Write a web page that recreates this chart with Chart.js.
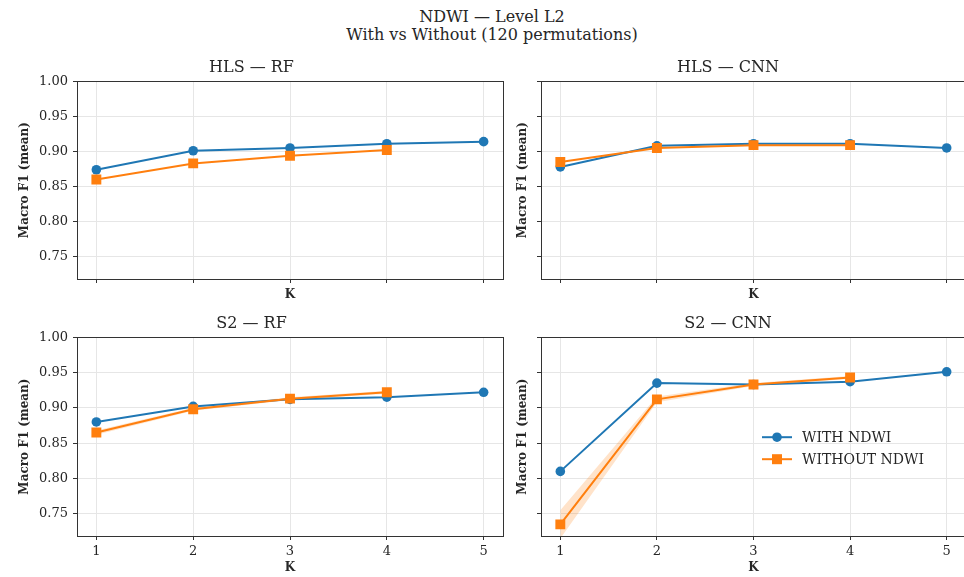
<!DOCTYPE html>
<html>
<head>
<meta charset="utf-8">
<script src="https://cdn.jsdelivr.net/npm/chart.js@4.4.1/dist/chart.umd.min.js"></script>
<style>
    body { margin: 0; width: 964px; height: 577px; overflow: hidden; background: #fff; position: relative; font-family: "DejaVu Serif", serif; color: #262626; }
    .sup { position: absolute; left: 0; width: 984px; text-align: center; font-size: 16px; line-height: 18px; }
    canvas { position: absolute; }
</style>
</head>
<body>
<div class="sup" style="top:8px">NDWI — Level L2</div>
<div class="sup" style="top:26px">With vs Without (120 permutations)</div>

<canvas id="hlsRf" width="510" height="246" style="left:0;top:58px"></canvas>
<canvas id="hlsCnn" width="490" height="246" style="left:490px;top:58px"></canvas>
<canvas id="s2Rf" width="510" height="263" style="left:0;top:314px"></canvas>
<canvas id="s2Cnn" width="490" height="263" style="left:490px;top:314px"></canvas>

<script>
// Values
const kValues = [1, 2, 3, 4, 5];
const yTicks = [0.75, 0.80, 0.85, 0.90, 0.95, 1.00];
const seriesLabels = ['WITH NDWI', 'WITHOUT NDWI'];

const hlsRfWith = [0.874, 0.901, 0.905, 0.911, 0.914];
const hlsRfWithout = [0.860, 0.883, 0.894, 0.902];

const hlsCnnWith = [0.878, 0.908, 0.911, 0.911, 0.905];
const hlsCnnWithout = [0.885, 0.905, 0.909, 0.909];

const s2RfWith = [0.880, 0.902, 0.912, 0.915, 0.922];
const s2RfWithout = [0.865, 0.898, 0.913, 0.922];
const s2RfWithoutLow = [0.862, 0.896, 0.911, 0.920];
const s2RfWithoutHigh = [0.868, 0.900, 0.915, 0.924];

const s2CnnWith = [0.810, 0.935, 0.933, 0.937, 0.951];
const s2CnnWithout = [0.735, 0.912, 0.933, 0.943];
const s2CnnWithoutLow = [0.715, 0.908, 0.931, 0.941];
const s2CnnWithoutHigh = [0.755, 0.916, 0.935, 0.945];

const BLUE = '#1f77b4';
const ORANGE = '#ff7f0e';
const SERIF = '"DejaVu Serif", serif';

function toPoints(values) {
    return values.map((v, i) => ({ x: kValues[i], y: v }));
}

// Matplotlib-style box round the plot area
const framePlugin = {
    id: 'frame',
    afterDatasetsDraw(chart) {
        const a = chart.chartArea;
        const ctx = chart.ctx;
        ctx.save();
        ctx.strokeStyle = '#333';
        ctx.lineWidth = 1;
        ctx.strokeRect(Math.round(a.left) + 0.5, Math.round(a.top) + 0.5,
            Math.round(a.right - a.left), Math.round(a.bottom - a.top));
        ctx.restore();
    }
};

// Legend drawn inside the plot area (line + marker + label)
const insideLegend = {
    id: 'insideLegend',
    afterDraw(chart) {
        const a = chart.chartArea;
        const ctx = chart.ctx;
        const entries = chart.data.datasets.filter(d => seriesLabels.includes(d.label));
        entries.sort((p, q) => seriesLabels.indexOf(p.label) - seriesLabels.indexOf(q.label));
        ctx.save();
        ctx.font = '14px ' + SERIF;
        ctx.textBaseline = 'middle';
        entries.forEach((d, i) => {
            const y = a.top + 100 + i * 22;
            const x0 = a.left + 221;
            ctx.strokeStyle = d.borderColor;
            ctx.lineWidth = 2;
            ctx.beginPath();
            ctx.moveTo(x0, y);
            ctx.lineTo(x0 + 30, y);
            ctx.stroke();
            ctx.fillStyle = d.borderColor;
            if (d.pointStyle === 'rect') {
                ctx.fillRect(x0 + 10, y - 5, 10, 10);
            } else {
                ctx.beginPath();
                ctx.arc(x0 + 15, y, 4.8, 0, Math.PI * 2);
                ctx.fill();
            }
            ctx.fillStyle = '#262626';
            ctx.fillText(d.label, x0 + 40, y + 1);
        });
        ctx.restore();
    }
};

function makePanel(id, title, withVals, withoutVals, band, layout) {
    const datasets = [];
    if (band) {
        datasets.push({
            data: toPoints(band.high), borderWidth: 0, pointRadius: 0, fill: false, order: 2
        });
        datasets.push({
            data: toPoints(band.low), borderWidth: 0, pointRadius: 0, fill: '-1',
            backgroundColor: 'rgba(255, 127, 14, 0.22)', order: 2
        });
    }
    datasets.push({
        label: seriesLabels[0],
        data: toPoints(withVals),
        borderColor: BLUE, backgroundColor: BLUE,
        borderWidth: 2, pointStyle: 'circle', pointRadius: 4.8, pointBorderWidth: 0,
        order: 1
    });
    datasets.push({
        label: seriesLabels[1],
        data: toPoints(withoutVals),
        borderColor: ORANGE, backgroundColor: ORANGE,
        borderWidth: 2, pointStyle: 'rect', pointRadius: 7, pointBorderWidth: 0,
        order: 0
    });

    const plugins = [framePlugin];
    if (layout.legend) plugins.push(insideLegend);

    return new Chart(document.getElementById(id), {
        type: 'line',
        data: { datasets },
        plugins,
        options: {
            responsive: false,
            animation: false,
            events: [],
            layout: { autoPadding: false, padding: { left: 0, right: layout.padRight, top: 0, bottom: 0 } },
            plugins: {
                legend: { display: false },
                tooltip: { enabled: false },
                title: {
                    display: true, text: title, color: '#262626',
                    font: { family: SERIF, size: 16, weight: 'normal' },
                    padding: { top: 0, bottom: 4 }
                }
            },
            scales: {
                x: {
                    type: 'linear', min: 0.8, max: 5.2,
                    afterBuildTicks: s => { s.ticks = kValues.map(v => ({ value: v })); },
                    afterFit: s => { s.height = layout.xHeight; },
                    border: { display: false },
                    grid: { color: '#e6e6e6', tickColor: '#333', tickLength: 4, lineWidth: 1 },
                    ticks: {
                        display: layout.showX, padding: 4, color: '#262626',
                        font: { family: SERIF, size: 13 },
                        callback: v => String(v)
                    },
                    title: {
                        display: true, text: 'K', color: '#262626',
                        font: { family: SERIF, size: 12, weight: 'bold' },
                        padding: { top: 0, bottom: 2 }
                    }
                },
                y: {
                    type: 'linear', min: 0.7185, max: 1.0,
                    afterBuildTicks: s => { s.ticks = yTicks.map(v => ({ value: v })); },
                    afterFit: s => { s.width = layout.yWidth; },
                    border: { display: false },
                    grid: { color: '#e6e6e6', tickColor: '#333', tickLength: 4, lineWidth: 1 },
                    ticks: {
                        display: layout.showY, padding: 5, color: '#262626',
                        font: { family: SERIF, size: 13 },
                        callback: v => v.toFixed(2)
                    },
                    title: {
                        display: true, text: 'Macro F1 (mean)', color: '#262626',
                        font: { family: SERIF, size: 12, weight: 'bold' },
                        padding: { top: layout.yTitlePad, bottom: 0 }
                    }
                }
            }
        }
    });
}

const leftTop = { yWidth: 77, yTitlePad: 17.8, padRight: 7, xHeight: 25, showX: false, showY: true };
const rightTop = { yWidth: 51, yTitlePad: 25.8, padRight: 14, xHeight: 25, showX: false, showY: false };
const leftBottom = { yWidth: 77, yTitlePad: 17.8, padRight: 7, xHeight: 41, showX: true, showY: true };
const rightBottom = { yWidth: 51, yTitlePad: 25.8, padRight: 14, xHeight: 41, showX: true, showY: false, legend: true };

makePanel('hlsRf', 'HLS — RF', hlsRfWith, hlsRfWithout, null, leftTop);
makePanel('hlsCnn', 'HLS — CNN', hlsCnnWith, hlsCnnWithout, null, rightTop);
makePanel('s2Rf', 'S2 — RF', s2RfWith, s2RfWithout, { low: s2RfWithoutLow, high: s2RfWithoutHigh }, leftBottom);
makePanel('s2Cnn', 'S2 — CNN', s2CnnWith, s2CnnWithout, { low: s2CnnWithoutLow, high: s2CnnWithoutHigh }, rightBottom);
</script>
</body>
</html>
